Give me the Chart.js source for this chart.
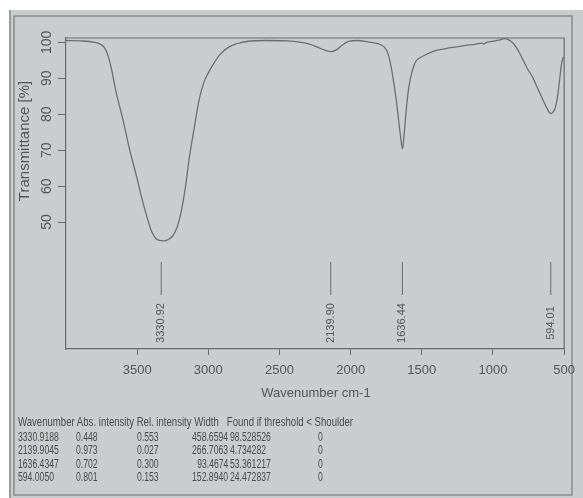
<!DOCTYPE html>
<html>
<head>
<meta charset="utf-8">
<script src="https://cdn.jsdelivr.net/npm/chart.js@4.4.0/dist/chart.umd.min.js"></script>
<style>
  html, body { margin: 0; padding: 0; background: #fff; }
  #wrap { position: relative; width: 583px; height: 498px; }
  canvas { position: absolute; left: 0; top: 0; }
  #table { position: absolute; left: 0; top: 0; width: 583px; height: 498px; font-family: "Liberation Sans", Arial, sans-serif; font-size: 12px; color: #4a4a4a; }
  #table span { position: absolute; white-space: pre; line-height: 12px; transform: scaleX(0.72); transform-origin: left center; }
  #table span.r { transform-origin: right center; }
  #table span.h { transform: scaleX(0.8); }
</style>
</head>
<body>
<div id="wrap">
  <canvas id="ir" width="583" height="498"></canvas>
  <div id="table"></div>
</div>
<script>
// spectrum
const wavenumbers = [4000, 3900, 3800, 3760, 3730, 3705, 3680, 3650, 3600, 3555, 3500, 3460, 3420, 3400, 3370, 3345, 3310, 3280, 3250, 3220,
  3190, 3160, 3135, 3100, 3065, 3030, 3000, 2970, 2920, 2860, 2800, 2720, 2600, 2450, 2350, 2290, 2230, 2180, 2140, 2100,
  2060, 2020, 1950, 1880, 1800, 1760, 1735, 1715, 1700, 1680, 1665, 1650, 1636, 1625, 1610, 1595, 1580, 1560, 1540, 1510,
  1470, 1420, 1350, 1300, 1200, 1120, 1080, 1065, 1050, 1000, 960, 920, 890, 860, 830, 800, 760, 724, 690, 655,
  625, 605, 594, 580, 565, 550, 535, 520, 510, 503];
const transmittance = [100.5, 100.4, 100.0, 99.5, 98.5, 96.3, 92.5, 86.5, 78.5, 70.5, 62, 55.5, 50, 47.5, 45.5, 44.9, 44.8, 45.2, 46.2, 48.5,
  53, 60, 67.5, 76, 84, 89, 91.5, 93.6, 96.5, 98.6, 99.6, 100.3, 100.5, 100.4, 100, 99.5, 98.6, 97.8, 97.4, 97.9,
  99.2, 100.2, 100.5, 100.1, 99.5, 98.5, 96.5, 93, 89.5, 84, 79, 74, 70.4, 74, 81, 86.5, 90, 93, 94.8, 95.8,
  96.6, 97.5, 98.1, 98.5, 99.1, 99.5, 99.8, 99.5, 99.9, 100.3, 100.6, 101, 100.7, 99.8, 98.2, 96, 92.8, 90.5, 87.5, 84.5,
  82, 80.6, 80.2, 80.5, 81.5, 84, 88.5, 93.5, 95.5, 96];

const xTicks = [3500, 3000, 2500, 2000, 1500, 1000, 500];
const yTicks = [50, 60, 70, 80, 90, 100];

const peakPositions = [3330.92, 2139.90, 1636.44, 594.01];
const peakLabels = ['3330.92', '2139.90', '1636.44', '594.01'];

const tableHeader = 'Wavenumber Abs. intensity Rel. intensity Width   Found if threshold < Shoulder';
const colWavenumber = ['3330.9188', '2139.9045', '1636.4347', '594.0050'];
const colAbs = ['0.448', '0.973', '0.702', '0.801'];
const colRel = ['0.553', '0.027', '0.300', '0.153'];
const colWidth = ['458.6594', '266.7063', '93.4674', '152.8940'];
const colFound = ['98.528526', '4.734282', '53.361217', '24.472837'];
const colShoulder = ['0', '0', '0', '0'];

// table as real text on top of the canvas
const tbl = document.getElementById('table');
function put(txt, x, y, cls) {
  const s = document.createElement('span');
  s.textContent = txt;
  s.style.top = (y - 6) + 'px';
  if (cls === 'r') { s.className = 'r'; s.style.right = (583 - x) + 'px'; }
  else { s.style.left = x + 'px'; if (cls) s.className = cls; }
  tbl.appendChild(s);
}
put(tableHeader, 18, 422, 'h');
colWavenumber.forEach((v, i) => {
  const y = 437 + i * 13.3;
  put(v, 18, y);
  put(colAbs[i], 76, y);
  put(colRel[i], 137, y);
  put(colWidth[i], 228, y, 'r');
  put(colFound[i], 230, y);
  put(colShoulder[i], 318, y);
});

const ink = '#555555';

const paperPlugin = {
  id: 'paper',
  beforeDraw(chart) {
    const c = chart.ctx;
    c.save();
    c.fillStyle = '#ffffff';
    c.fillRect(0, 0, 583, 498);
    c.fillStyle = '#cbcccd';
    c.fillRect(9, 10, 574, 488);
    c.strokeStyle = '#8a8a8a';
    c.lineWidth = 1.5;
    c.strokeRect(14, 16, 558, 479);
    c.strokeStyle = '#9a9a9a';
    c.lineWidth = 2;
    c.beginPath(); c.moveTo(10, 10); c.lineTo(10, 498); c.stroke();
    c.restore();
  },
  afterDraw(chart) {
    const c = chart.ctx;
    const a = chart.chartArea;
    const xs = chart.scales.x, ys = chart.scales.y;
    c.save();
    // top and right edges of the plot box
    c.strokeStyle = '#6a6a6a';
    c.lineWidth = 1.2;
    c.beginPath();
    c.moveTo(a.left, a.top); c.lineTo(a.right, a.top); c.lineTo(a.right, a.bottom);
    c.stroke();

    // rotated y tick labels
    c.fillStyle = ink;
    c.font = '14px "Liberation Sans", Arial, sans-serif';
    c.textAlign = 'center';
    c.textBaseline = 'middle';
    yTicks.forEach(v => {
      c.save();
      c.translate(47, ys.getPixelForValue(v));
      c.rotate(-Math.PI / 2);
      c.fillText(String(v), 0, 0);
      c.restore();
    });
    // y title
    c.save();
    c.font = '15px "Liberation Sans", Arial, sans-serif';
    c.translate(25, 141);
    c.rotate(-Math.PI / 2);
    c.fillText('Transmittance [%]', 0, 0);
    c.restore();
    // x title
    c.font = '13px "Liberation Sans", Arial, sans-serif';
    c.fillText('Wavenumber cm-1', 316, 393);

    // peak markers
    c.strokeStyle = '#6a6a6a';
    c.lineWidth = 1;
    c.font = '11px "Liberation Sans", Arial, sans-serif';
    peakPositions.forEach((p, i) => {
      const px = xs.getPixelForValue(p);
      c.beginPath(); c.moveTo(px, 262); c.lineTo(px, 295); c.stroke();
      c.save();
      c.translate(px, 323);
      c.rotate(-Math.PI / 2);
      c.fillText(peakLabels[i], 0, 0);
      c.restore();
    });
    c.restore();
  }
};

new Chart(document.getElementById('ir'), {
  type: 'line',
  data: {
    datasets: [{
      data: wavenumbers.map((w, i) => ({ x: w, y: transmittance[i] })),
      borderColor: '#6e6e6e',
      borderWidth: 1.3,
      pointRadius: 0,
      cubicInterpolationMode: 'monotone',
      fill: false
    }]
  },
  options: {
    responsive: false,
    animation: false,
    layout: { padding: { left: 0, top: 38, right: 18, bottom: 0 } },
    plugins: { legend: { display: false }, tooltip: { enabled: false } },
    scales: {
      x: {
        type: 'linear',
        reverse: true,
        min: 500,
        max: 4000,
        afterBuildTicks: s => { s.ticks = xTicks.map(v => ({ value: v })); },
        afterFit: s => { s.height = 149; },
        grid: { drawOnChartArea: false, drawTicks: true, tickLength: 6, color: '#6a6a6a' },
        border: { color: '#6a6a6a', width: 1.2 },
        ticks: {
          color: ink,
          padding: 8,
          maxRotation: 0,
          callback: v => String(v),
          font: { family: '"Liberation Sans", Arial, sans-serif', size: 13 }
        }
      },
      y: {
        min: 14.7,
        max: 101.2,
        afterBuildTicks: s => { s.ticks = yTicks.map(v => ({ value: v })); },
        afterFit: s => { s.width = 66; },
        grid: { drawOnChartArea: false, drawTicks: true, tickLength: 8, color: '#6a6a6a' },
        border: { color: '#6a6a6a', width: 1.2 },
        ticks: { display: false }
      }
    }
  },
  plugins: [paperPlugin]
});
</script>
</body>
</html>
